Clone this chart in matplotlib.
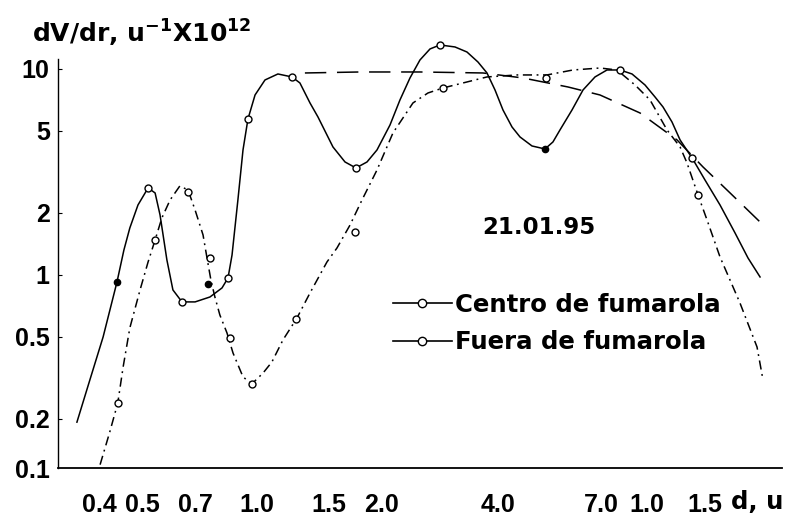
import matplotlib
matplotlib.use("Agg")
import matplotlib.pyplot as plt
import matplotlib.transforms as mtransforms
from matplotlib.lines import Line2D

plt.rcParams["font.family"] = "DejaVu Sans"
plt.rcParams["font.weight"] = "bold"
plt.rcParams["mathtext.fontset"] = "dejavusans"
plt.rcParams["mathtext.default"] = "bf"

# Centro de fumarola: traced curve (d in u, dV/dr x1e12)
centro_d = [0.341, 0.368, 0.398, 0.432, 0.450, 0.466, 0.489, 0.519, 0.541, 0.557,
            0.580, 0.601, 0.634, 0.685, 0.748, 0.803, 0.832, 0.852, 0.882, 0.909,
            0.936, 0.976, 1.035, 1.117, 1.214, 1.272, 1.350, 1.415, 1.546, 1.660,
            1.771, 1.890, 2.005, 2.165, 2.296, 2.436, 2.584, 2.742, 2.908, 3.177,
            3.410, 3.639, 3.838, 4.024, 4.218, 4.449, 4.664, 5.006, 5.405, 5.665,
            5.905, 6.340, 6.766, 7.262, 7.795, 8.417, 9.035, 9.755, 10.35, 10.85,
            11.44, 12.00, 12.88, 13.90, 15.19, 16.60, 17.92, 19.24]
centro_v = [0.193, 0.309, 0.500, 0.925, 1.322, 1.691, 2.187, 2.645, 2.501, 1.956,
            1.183, 0.846, 0.740, 0.740, 0.782, 0.865, 0.967, 1.250, 2.312, 4.045,
            5.717, 7.478, 8.844, 9.457, 9.147, 8.551, 6.839, 5.848, 4.182, 3.536,
            3.307, 3.536, 4.045, 5.348, 7.071, 9.044, 11.06, 12.51, 13.08, 12.79,
            12.09, 10.81, 9.563, 7.909, 6.324, 5.229, 4.677, 4.229, 4.090, 4.422,
            5.057, 6.324, 7.909, 9.147, 9.888, 9.888, 9.457, 8.363, 7.313, 6.539,
            5.529, 4.523, 3.698, 2.892, 2.187, 1.599, 1.209, 0.978]
# Centro measured points (open / filled)
centro_pts_d = [0.519, 0.634, 0.832, 0.936, 1.214, 1.771, 2.908, 8.417, 12.88]
centro_pts_v = [2.645, 0.740, 0.967, 5.717, 9.147, 3.307, 13.08, 9.888, 3.698]
centro_fill_d = [0.432, 5.405]
centro_fill_v = [0.925, 4.090]

# Fuera de fumarola: traced curve
fuera_d = [0.391, 0.414, 0.434, 0.448, 0.466, 0.495, 0.519, 0.541, 0.563, 0.591,
           0.626, 0.657, 0.685, 0.718, 0.735, 0.752, 0.770, 0.793, 0.827, 0.857,
           0.909, 0.958, 1.023, 1.078, 1.151, 1.250, 1.350, 1.492, 1.583, 1.710,
           1.835, 2.005, 2.203, 2.479, 2.709, 2.960, 3.410, 3.838, 4.581, 5.469,
           6.377, 7.478, 8.268, 9.197, 10.05, 11.11, 12.00, 12.50, 13.34, 14.07,
           15.19, 17.09, 18.90, 19.58]
fuera_v = [0.120, 0.173, 0.239, 0.358, 0.553, 0.846, 1.156, 1.479, 1.891, 2.312,
           2.704, 2.586, 2.068, 1.564, 1.209, 0.946, 0.782, 0.639, 0.523, 0.418,
           0.320, 0.296, 0.334, 0.378, 0.484, 0.618, 0.818, 1.156, 1.352, 1.748,
           2.312, 3.234, 4.891, 6.839, 7.647, 8.087, 8.648, 9.147, 9.354, 9.354,
           9.888, 10.11, 9.888, 8.363, 7.071, 5.057, 4.182, 3.498, 2.445, 1.849,
           1.223, 0.731, 0.447, 0.309]
fuera_pts_d = [0.434, 0.541, 0.657, 0.748, 0.842, 0.958, 1.243, 1.761, 2.960, 5.437, 13.34]
fuera_pts_v = [0.239, 1.479, 2.528, 1.209, 0.4945, 0.296, 0.6115, 1.617, 8.087, 9.044, 2.445]
fuera_fill_d = [0.739]
fuera_fill_v = [0.904]

# long-dashed envelope
envol_d = [1.310, 1.814, 2.584, 3.748, 4.747, 6.192, 7.478, 9.472, 11.79, 13.74, 16.12, 19.24]
envol_v = [9.563, 9.670, 9.670, 9.563, 9.044, 8.177, 7.478, 6.115, 4.522, 3.344, 2.501, 1.808]

xticks = [0.4, 0.5, 0.7, 1.0, 1.5, 2.0, 4.0, 7.0, 10, 15]
xticklabels = ["0.4", "0.5", "0.7", "1.0", "1.5", "2.0", "4.0", "7.0", "1.0", "1.5"]
# the printed scale is hand-lettered: small sideways nudges of each label (px)
xlabel_nudge = [-5, 1, -3, -2, 1, 5, 4, 13, -2, -13]
yticks = [0.2, 0.5, 1, 2, 5, 10]
yticklabels = ["0.2", "0.5", "1", "2", "5", "10"]

fig = plt.figure(figsize=(8.07, 5.2), dpi=100)
ax = fig.add_axes([0.0719, 0.1, 0.8971, 0.8327])
ax.set_xscale("log")
ax.set_yscale("log")
ax.set_xlim(0.305, 21.9)
ax.set_ylim(0.1156, 14.62)

dashdot = (0, (6, 3, 1.2, 3))
ax.plot(centro_d, centro_v, color="black", lw=1.1)
ax.plot(fuera_d, fuera_v, color="black", lw=1.1, linestyle=dashdot)
ax.plot(envol_d, envol_v, color="black", lw=1.1, linestyle=(0, (14, 7)))

mk = dict(marker="o", ms=5, mfc="white", mec="black", mew=1.0, linestyle="none")
ax.plot(centro_pts_d, centro_pts_v, **mk)
ax.plot(fuera_pts_d, fuera_pts_v, **mk)
ax.plot(centro_fill_d + fuera_fill_d, centro_fill_v + fuera_fill_v,
        marker="o", ms=4.5, mfc="black", mec="black", linestyle="none")

for s in ["top", "right"]:
    ax.spines[s].set_visible(False)
ax.spines["left"].set_bounds(0.1156, 11.2)
ax.spines["left"].set_linewidth(1.0)
ax.spines["bottom"].set_linewidth(1.3)

tickfont = dict(family="Liberation Sans", weight="bold", size=18)
ax.set_xticks(xticks)
ax.set_xticklabels(xticklabels, fontdict=tickfont)
ax.set_yticks(yticks)
ax.set_yticklabels(yticklabels, fontdict=tickfont)
ax.minorticks_off()
ax.tick_params(axis="x", length=0, pad=18)
ax.tick_params(axis="y", direction="in", length=3, width=0.8, pad=6)
for lab, dx in zip(ax.get_xticklabels(), xlabel_nudge):
    lab.set_transform(lab.get_transform()
                      + mtransforms.ScaledTranslation(dx / 100, 0, fig.dpi_scale_trans))
ax.annotate("0.1", xy=(0, 0), xycoords="axes fraction", xytext=(-6, -2),
            textcoords="offset points", ha="right", va="center", **tickfont)

fig.text(783 / 807, 1 - 502 / 520, "d, u", ha="right", va="center",
         fontsize=17.6, fontweight="bold")
fig.text(32 / 807, 1 - 33 / 520, "dV/dr, u$^{-1}$X10$^{12}$", ha="left", va="center",
         fontsize=18, fontweight="bold")
fig.text(539 / 807, 1 - 228 / 520, "21.01.95", ha="center", va="center",
         fontsize=16.5, fontweight="bold")

handles = [
    Line2D([], [], color="black", lw=1.2, marker="o", ms=6, mfc="white", mec="black"),
    Line2D([], [], color="black", lw=1.2, marker="o", ms=6, mfc="white", mec="black"),
]
fig.legend(handles, ["Centro de fumarola", "Fuera de fumarola"],
           loc="upper left", bbox_to_anchor=(393 / 807, 1 - 293 / 520),
           frameon=False, borderpad=0, borderaxespad=0, handlelength=2.4,
           handletextpad=0.15, labelspacing=0.55, numpoints=1,
           prop=dict(size=17.6, weight="bold"))

fig.savefig("out.png", dpi=100)
